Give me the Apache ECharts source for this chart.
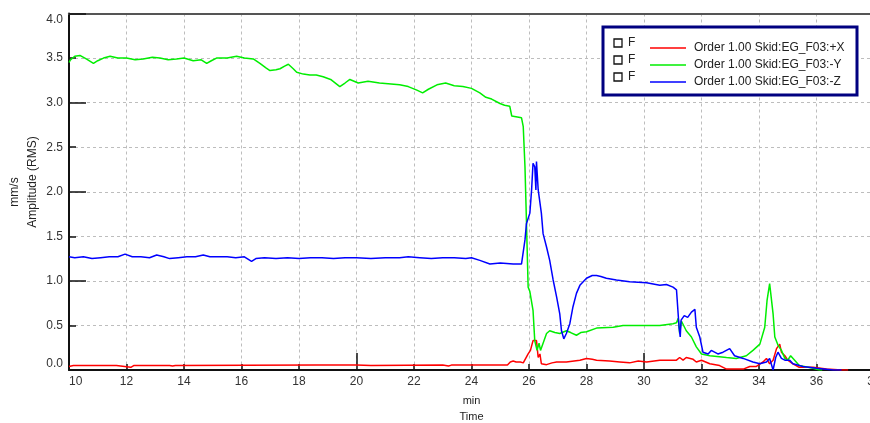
<!DOCTYPE html>
<html><head><meta charset="utf-8">
<script src="https://cdn.jsdelivr.net/npm/echarts@6/dist/echarts.min.js"></script>
<style>html,body{margin:0;padding:0;background:#fff}#c{width:870px;height:423px}</style>
</head><body><div id="c"></div>
<script>
const seriesNames = ['Order 1.00 Skid:EG_F03:+X', 'Order 1.00 Skid:EG_F03:-Y', 'Order 1.00 Skid:EG_F03:-Z'];
const seriesColors = ['#ff0000', '#00ee00', '#0000ff'];
const xTitle = 'min\nTime';
const yUnit = 'mm/s';
const yTitle = 'Amplitude (RMS)';

const redX = [[10.0,0.04],[10.15,0.05],[11.65,0.05],[11.7,0.03],[12.15,0.03],[12.25,0.05],[12.4,0.05],[12.45,0.03],[12.55,0.05],[13.5,0.05],[13.6,0.045],[13.7,0.05],[18.6,0.055],[20.0,0.055],[20.5,0.05],[23.0,0.055],[23.2,0.045],[23.3,0.055],[25.25,0.055],[25.35,0.09],[25.45,0.1],[25.55,0.09],[25.7,0.09],[25.8,0.08],[25.97,0.18],[26.05,0.22],[26.14,0.33],[26.26,0.33],[26.32,0.14],[26.38,0.18],[26.43,0.07],[26.61,0.06],[26.8,0.08],[26.96,0.09],[27.3,0.09],[27.77,0.11],[28.0,0.13],[28.2,0.12],[28.35,0.11],[28.8,0.1],[29.16,0.09],[29.5,0.08],[29.8,0.1],[30.09,0.09],[30.55,0.11],[31.13,0.11],[31.24,0.14],[31.36,0.11],[31.47,0.14],[31.71,0.12],[31.82,0.09],[32.0,0.11],[32.29,0.07],[32.63,0.05],[32.75,0.03],[32.87,0.01],[33.45,0.01],[33.68,0.04],[33.91,0.04],[34.14,0.09],[34.26,0.13],[34.37,0.07],[34.49,0.11],[34.61,0.24],[34.72,0.29],[34.78,0.20],[34.9,0.16],[35.0,0.11],[35.18,0.07],[35.4,0.03],[35.88,0.03],[36.35,0.01],[36.87,0.0],[37.1,0.0]];

const greenY = [[10.0,3.45],[10.05,3.48],[10.2,3.52],[10.38,3.53],[10.6,3.49],[10.85,3.44],[11.0,3.47],[11.2,3.50],[11.43,3.52],[11.7,3.50],[12.0,3.50],[12.3,3.48],[12.58,3.49],[12.9,3.51],[13.16,3.50],[13.45,3.48],[13.74,3.49],[14.0,3.50],[14.32,3.47],[14.6,3.48],[14.79,3.44],[14.95,3.47],[15.13,3.50],[15.5,3.50],[15.83,3.52],[16.1,3.50],[16.41,3.49],[16.64,3.44],[16.85,3.39],[16.99,3.36],[17.2,3.37],[17.34,3.38],[17.5,3.41],[17.63,3.43],[17.8,3.38],[17.92,3.34],[18.15,3.32],[18.38,3.31],[18.6,3.31],[18.84,3.29],[19.1,3.26],[19.42,3.18],[19.6,3.22],[19.77,3.26],[20.06,3.22],[20.4,3.24],[20.8,3.22],[21.2,3.21],[21.5,3.20],[21.8,3.18],[22.1,3.14],[22.3,3.11],[22.5,3.15],[22.8,3.20],[23.1,3.22],[23.4,3.19],[23.7,3.18],[24.0,3.16],[24.29,3.11],[24.5,3.06],[24.7,3.04],[24.99,2.99],[25.15,2.97],[25.33,2.96],[25.4,2.85],[25.45,2.83],[25.74,2.83],[25.80,2.73],[25.86,2.28],[25.91,1.68],[25.97,0.93],[26.03,0.88],[26.09,0.86],[26.14,0.67],[26.20,0.33],[26.28,0.22],[26.35,0.30],[26.40,0.22],[26.49,0.30],[26.61,0.41],[26.72,0.44],[26.9,0.42],[27.07,0.41],[27.30,0.44],[27.45,0.42],[27.65,0.39],[27.8,0.42],[28.0,0.43],[28.35,0.47],[28.93,0.48],[29.27,0.50],[30.09,0.50],[30.55,0.50],[31.01,0.52],[31.13,0.53],[31.19,0.58],[31.24,0.41],[31.30,0.55],[31.36,0.56],[31.47,0.44],[31.65,0.37],[31.82,0.26],[32.0,0.18],[32.29,0.16],[32.87,0.14],[33.21,0.13],[33.56,0.16],[33.79,0.22],[34.03,0.29],[34.2,0.48],[34.28,0.78],[34.37,0.97],[34.43,0.97],[34.49,0.63],[34.55,0.37],[34.66,0.28],[34.78,0.22],[34.9,0.13],[35.0,0.11],[35.1,0.16],[35.24,0.11],[35.4,0.05],[35.88,0.02],[36.1,0.0],[36.2,0.0]];

const blueZ = [[10.0,1.27],[10.2,1.26],[10.5,1.27],[10.8,1.25],[11.1,1.26],[11.4,1.27],[11.7,1.27],[11.95,1.30],[12.2,1.27],[12.5,1.27],[12.8,1.26],[13.05,1.29],[13.3,1.27],[13.5,1.25],[13.8,1.26],[14.1,1.27],[14.4,1.27],[14.67,1.29],[14.9,1.27],[15.2,1.27],[15.5,1.27],[15.8,1.26],[16.1,1.27],[16.35,1.22],[16.5,1.25],[16.8,1.26],[17.2,1.25],[17.6,1.26],[18.0,1.25],[18.4,1.26],[18.8,1.26],[19.2,1.25],[19.6,1.26],[20.0,1.26],[20.5,1.25],[21.0,1.26],[21.5,1.26],[21.8,1.27],[22.2,1.26],[22.6,1.25],[23.0,1.26],[23.4,1.26],[23.8,1.25],[24.0,1.26],[24.29,1.23],[24.64,1.19],[25.0,1.20],[25.45,1.19],[25.74,1.19],[25.86,1.46],[25.91,1.64],[26.03,1.76],[26.09,2.02],[26.14,2.32],[26.20,2.28],[26.24,2.02],[26.26,2.34],[26.32,2.02],[26.43,1.76],[26.49,1.53],[26.61,1.38],[26.72,1.23],[26.84,1.01],[26.96,0.82],[27.07,0.63],[27.13,0.44],[27.21,0.35],[27.30,0.41],[27.42,0.52],[27.53,0.71],[27.65,0.86],[27.77,0.95],[28.0,1.03],[28.2,1.06],[28.35,1.06],[28.5,1.05],[28.69,1.03],[29.04,1.01],[29.5,0.99],[30.09,0.98],[30.55,0.95],[30.78,0.96],[31.01,0.93],[31.13,0.90],[31.22,0.48],[31.26,0.37],[31.29,0.56],[31.4,0.61],[31.52,0.59],[31.65,0.65],[31.77,0.68],[31.82,0.48],[31.94,0.37],[32.05,0.20],[32.23,0.18],[32.34,0.22],[32.57,0.18],[32.75,0.20],[32.98,0.24],[33.15,0.16],[33.45,0.13],[33.79,0.09],[34.03,0.07],[34.26,0.09],[34.37,0.13],[34.49,0.0],[34.58,0.14],[34.66,0.20],[34.78,0.13],[34.9,0.11],[35.07,0.11],[35.18,0.07],[35.53,0.04],[36.0,0.02],[36.58,0.0],[36.87,0.0]];

const xMin = 10, xMax = 38, xStep = 2;
const yMin = 0, yMax = 4, yStep = 0.5;

const FONT = "'Liberation Sans', Arial, sans-serif";
const chart = echarts.init(document.getElementById('c'), null, {renderer: 'canvas'});

const dataSets = [redX, greenY, blueZ];
const rowY = [43, 60, 77];

const graphics = [
  {type: 'rect', z: 3, shape: {x: 603, y: 27, width: 254, height: 68}, style: {fill: '#fff', stroke: '#000080', lineWidth: 3}},
  {type: 'text', z: 10, x: 15, y: 192, rotation: Math.PI / 2, style: {text: yUnit, font: '12px ' + FONT, fill: '#222', align: 'center', verticalAlign: 'middle'}},
  {type: 'text', z: 10, x: 33, y: 182, rotation: Math.PI / 2, style: {text: yTitle, font: '12px ' + FONT, fill: '#222', align: 'center', verticalAlign: 'middle'}}
];
rowY.forEach(function (ry) {
  graphics.push({type: 'rect', z: 10, shape: {x: 614, y: ry - 4, width: 8, height: 8}, style: {fill: '#fff', stroke: '#111', lineWidth: 1.3}});
  graphics.push({type: 'text', z: 10, x: 628, y: ry, style: {text: 'F', font: '12px ' + FONT, fill: '#222', verticalAlign: 'middle'}});
});

const option = {
  backgroundColor: '#ffffff',
  animation: false,
  textStyle: {fontFamily: FONT},
  grid: {left: 69, right: -4, top: 13.5, bottom: 53, containLabel: false, outerBoundsMode: 'none'},
  legend: {
    orient: 'vertical', left: 645, top: 36, z: 6,
    icon: 'rect', itemWidth: 36, itemHeight: 1.5, itemGap: 3,
    selectedMode: false,
    textStyle: {fontSize: 12, lineHeight: 14, color: '#222', fontFamily: FONT, padding: [0, 0, 0, 3]},
    data: seriesNames
  },
  xAxis: [
    {type: 'value', min: xMin, max: xMax, interval: xStep, position: 'bottom',
     name: xTitle, nameLocation: 'middle', nameGap: 23,
     nameTextStyle: {fontSize: 11, lineHeight: 16, color: '#222', fontFamily: FONT},
     axisLine: {show: true, onZero: false, lineStyle: {color: '#111', width: 2}},
     axisTick: {show: true, inside: true, length: 6, lineStyle: {color: '#111', width: 1.5}},
     axisLabel: {fontSize: 12, color: '#333', margin: 6, alignMinLabel: 'left', showMaxLabel: true},
     splitLine: {show: true, lineStyle: {color: '#bdbdbd', type: [3, 3], width: 1}}},
    {type: 'value', min: xMin, max: xMax, interval: 10, position: 'bottom',
     axisLine: {show: false}, axisLabel: {show: false}, splitLine: {show: false},
     axisTick: {show: true, inside: true, length: 17, lineStyle: {color: '#111', width: 1.5}}},
    {type: 'value', min: xMin, max: xMax, interval: xStep, position: 'top',
     axisLine: {show: true, onZero: false, lineStyle: {color: '#555', width: 2}},
     axisTick: {show: false}, axisLabel: {show: false}, splitLine: {show: false}}
  ],
  yAxis: [
    {type: 'value', min: yMin, max: yMax, interval: yStep, position: 'left',
     axisLine: {show: true, onZero: false, lineStyle: {color: '#111', width: 2}},
     axisTick: {show: true, inside: true, length: 7, lineStyle: {color: '#111', width: 1.5}},
     axisLabel: {fontSize: 12, color: '#333', margin: 6, formatter: function (v) { return v.toFixed(1); },
                 verticalAlignMinLabel: 'bottom', verticalAlignMaxLabel: 'top'},
     splitLine: {show: true, lineStyle: {color: '#bdbdbd', type: [3, 3], width: 1}}},
    {type: 'value', min: yMin, max: yMax, interval: 1, position: 'left', offset: 0,
     axisLine: {show: false}, axisLabel: {show: false}, splitLine: {show: false},
     axisTick: {show: true, inside: true, length: 17, lineStyle: {color: '#111', width: 1.5}}}
  ],
  graphic: graphics,
  series: seriesNames.map(function (n, i) {
    return {
      name: n, type: 'line', xAxisIndex: 0, yAxisIndex: 0,
      data: dataSets[i], showSymbol: false, symbol: 'none',
      lineStyle: {color: seriesColors[i], width: 1.5}, itemStyle: {color: seriesColors[i]},
      z: 2 + i
    };
  })
};
chart.setOption(option);
</script>
</body></html>
